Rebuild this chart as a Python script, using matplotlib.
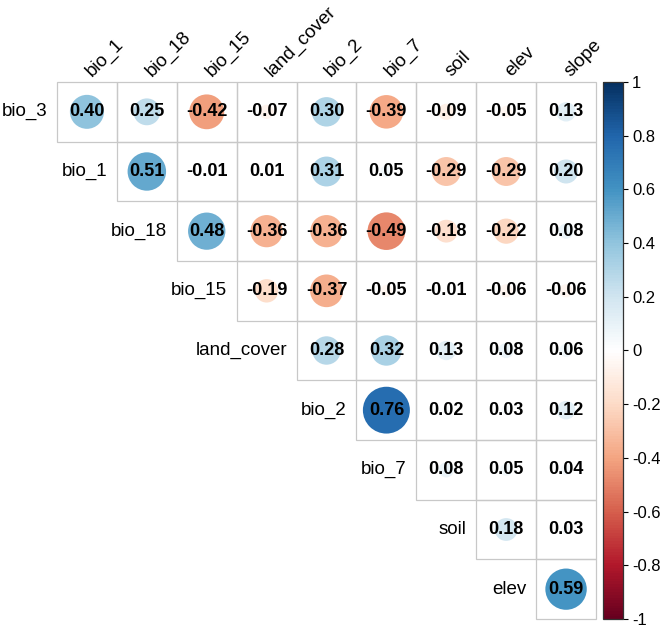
import numpy as np
import matplotlib
matplotlib.use("Agg")
import matplotlib.pyplot as plt
from matplotlib.patches import Circle, Rectangle
from matplotlib.colors import LinearSegmentedColormap, Normalize
from matplotlib.cm import ScalarMappable

# ================= DATA =================
row_labels = ["bio_3", "bio_1", "bio_18", "bio_15", "land_cover",
              "bio_2", "bio_7", "soil", "elev"]
col_labels = ["bio_1", "bio_18", "bio_15", "land_cover", "bio_2",
              "bio_7", "soil", "elev", "slope"]

# upper triangle, row i starts at column i
corr_rows = [
    [0.40, 0.25, -0.42, -0.07, 0.30, -0.39, -0.09, -0.05, 0.13],
    [0.51, -0.01, 0.01, 0.31, 0.05, -0.29, -0.29, 0.20],
    [0.48, -0.36, -0.36, -0.49, -0.18, -0.22, 0.08],
    [-0.19, -0.37, -0.05, -0.01, -0.06, -0.06],
    [0.28, 0.32, 0.13, 0.08, 0.06],
    [0.76, 0.02, 0.03, 0.12],
    [0.08, 0.05, 0.04],
    [0.18, 0.03],
    [0.59],
]
cbar_ticks = [1, 0.8, 0.6, 0.4, 0.2, 0, -0.2, -0.4, -0.6, -0.8, -1]
# ========================================

plt.rcParams["font.family"] = ["Liberation Sans", "DejaVu Sans"]

rdbu = ["#67001F", "#B2182B", "#D6604D", "#F4A582", "#FDDBC7", "#FFFFFF",
        "#D1E5F0", "#92C5DE", "#4393C3", "#2166AC", "#053061"]
cmap = LinearSegmentedColormap.from_list("corr_rdbu", rdbu, N=200)
norm = Normalize(-1, 1)

W, H = 661, 628
fig = plt.figure(figsize=(W / 100, H / 100), dpi=100)

# grid area in pixels
gx0, gx1, gy0, gy1 = 57, 596, 82, 619
ax = fig.add_axes([gx0 / W, 1 - gy1 / H, (gx1 - gx0) / W, (gy1 - gy0) / H])
n = len(row_labels)
ax.set_xlim(0, n)
ax.set_ylim(n, 0)
ax.axis("off")

for i, vals in enumerate(corr_rows):
    for k, v in enumerate(vals):
        j = i + k
        ax.add_patch(Rectangle((j, i), 1, 1, facecolor="none",
                               edgecolor="#C8C8C8", lw=0.9, clip_on=False))
        r = 0.45 * np.sqrt(abs(v))
        ax.add_patch(Circle((j + 0.5, i + 0.5), r, facecolor=cmap(norm(v)),
                            edgecolor="none"))
        ax.text(j + 0.5, i + 0.5, f"{v:.2f}", ha="center", va="center",
                fontsize=13, fontweight="bold", color="black")
    # row label to the left of the first cell
    ax.text(i - 0.16, i + 0.5, row_labels[i], ha="right", va="center",
            fontsize=13.5, color="black")

for j, lab in enumerate(col_labels):
    ax.text(j + 0.58, -0.08, lab, rotation=45, rotation_mode="anchor",
            ha="left", va="baseline", fontsize=13.5, color="black")

# colorbar
cx0, cx1 = 603, 623
cax = fig.add_axes([cx0 / W, 1 - gy1 / H, (cx1 - cx0) / W, (gy1 - gy0) / H])
sm = ScalarMappable(norm=norm, cmap=cmap)
cb = fig.colorbar(sm, cax=cax, ticks=cbar_ticks)
cb.ax.set_yticklabels([f"{t:g}" for t in cbar_ticks])
cb.ax.tick_params(labelsize=12, length=3.5, width=0.8, colors="black",
                  pad=3)
cb.outline.set_linewidth(0.9)
cb.outline.set_edgecolor("#333333")

fig.savefig("out.png", dpi=100)
